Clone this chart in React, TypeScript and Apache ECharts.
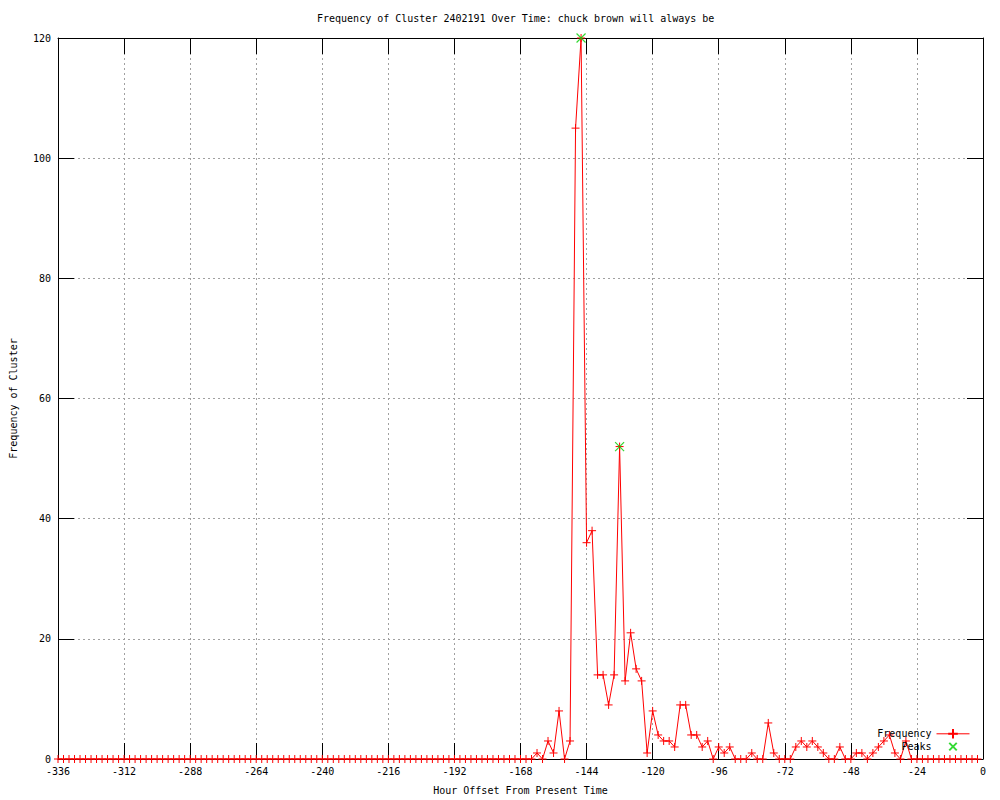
import React, { useEffect, useRef } from "react";
import * as echarts from "echarts";

const TITLE = "Frequency of Cluster 2402191 Over Time: chuck brown will always be";
const X_NAME = "Hour Offset From Present Time";
const Y_NAME = "Frequency of Cluster";

// hour offsets, every 2 hours from -336 to -2
const hours: number[] = Array.from({ length: 168 }, (_, i) => -336 + 2 * i);

// frequency values (one per hour offset above)
const frequency: number[] = [
  // -336 .. -172
  0, 0, 0, 0, 0, 0, 0, 0, 0, 0,
  0, 0, 0, 0, 0, 0, 0, 0, 0, 0,
  0, 0, 0, 0, 0, 0, 0, 0, 0, 0,
  0, 0, 0, 0, 0, 0, 0, 0, 0, 0,
  0, 0, 0, 0, 0, 0, 0, 0, 0, 0,
  0, 0, 0, 0, 0, 0, 0, 0, 0, 0,
  0, 0, 0, 0, 0, 0, 0, 0, 0, 0,
  0, 0, 0, 0, 0, 0, 0, 0, 0, 0,
  0, 0, 0,
  // -170 .. -152
  0, 0, 0, 0, 1, 0, 3, 1, 8, 0,
  // -150 .. -132
  3, 105, 120, 36, 38, 14, 14, 9, 14, 52,
  // -130 .. -112
  13, 21, 15, 13, 1, 8, 4, 3, 3, 2,
  // -110 .. -92
  9, 9, 4, 4, 2, 3, 0, 2, 1, 2,
  // -90 .. -72
  0, 0, 0, 1, 0, 0, 6, 1, 0, 0,
  // -70 .. -52
  0, 2, 3, 2, 3, 2, 1, 0, 0, 2,
  // -50 .. -32
  0, 0, 1, 1, 0, 1, 2, 3, 4, 1,
  // -30 .. -12
  0, 3, 0, 0, 0, 0, 0, 0, 0, 0,
  // -10 .. -2
  0, 0, 0, 0, 0,
];

const peakHours: number[] = [-146, -132];
const peakValues: number[] = [120, 52];

const X_MIN = -336;
const X_MAX = 0;
const X_STEP = 24;
const Y_MIN = 0;
const Y_MAX = 120;
const Y_STEP = 20;

const FONT = "'DejaVu Sans Mono', 'Liberation Mono', monospace";
const PLUS = "path://M5,0L5,10M0,5L10,5";
const CROSS = "path://M0,0L10,10M10,0L0,10";
const CROSS_PADDED = "path://M-3,-3M13,13M0,0L10,10M10,0L0,10";

export default function App() {
  const ref = useRef<HTMLDivElement>(null);

  useEffect(() => {
    if (!ref.current) return;
    const chart = echarts.init(ref.current, undefined, { renderer: "svg" });

    const lineData = hours.map((h, i) => [h, frequency[i]]);
    const peakData = peakHours.map((h, i) => [h, peakValues[i]]);

    const tickLen = 16;
    const axisCommon = {
      axisLine: { show: true, onZero: false, lineStyle: { color: "#000", width: 1 } },
      axisTick: { show: true, inside: true, length: tickLen, lineStyle: { color: "#000", width: 1 } },
    };

    chart.setOption({
      animation: false,
      backgroundColor: "#fff",
      textStyle: { fontFamily: FONT, color: "#000" },
      title: {
        text: TITLE,
        left: 312,
        top: 8,
        textStyle: { fontFamily: FONT, fontSize: 10, fontWeight: "normal", color: "#000" },
      },
      grid: { left: 55, right: 17, top: 38, bottom: 40, containLabel: false },
      legend: {
        orient: "vertical",
        right: 25,
        top: 723,
        align: "right",
        itemWidth: 33,
        itemHeight: 12,
        itemGap: 0,
        textStyle: { fontFamily: FONT, fontSize: 10, color: "#000" },
        lineStyle: { width: 1 },
        data: [
          { name: "Frequency" },
          { name: "Peaks", icon: CROSS_PADDED },
        ],
      },
      xAxis: [
        {
          type: "value",
          min: X_MIN,
          max: X_MAX,
          interval: X_STEP,
          position: "bottom",
          name: X_NAME,
          nameLocation: "middle",
          nameGap: 26,
          nameTextStyle: { fontFamily: FONT, fontSize: 10, color: "#000" },
          ...axisCommon,
          axisLabel: { show: true, margin: 7, fontFamily: FONT, fontSize: 10, color: "#000" },
          splitLine: { show: true, lineStyle: { color: "#a0a0a0", type: [2, 3], width: 1 } },
        },
        {
          type: "value",
          min: X_MIN,
          max: X_MAX,
          interval: X_STEP,
          position: "top",
          ...axisCommon,
          axisLabel: { show: false },
          splitLine: { show: false },
        },
      ],
      yAxis: [
        {
          type: "value",
          min: Y_MIN,
          max: Y_MAX,
          interval: Y_STEP,
          position: "left",
          name: Y_NAME,
          nameLocation: "middle",
          nameGap: 40,
          nameRotate: 90,
          nameTextStyle: { fontFamily: FONT, fontSize: 10, color: "#000" },
          ...axisCommon,
          axisLabel: { show: true, margin: 7, fontFamily: FONT, fontSize: 10, color: "#000" },
          splitLine: { show: true, lineStyle: { color: "#a0a0a0", type: [2, 3], width: 1 } },
        },
        {
          type: "value",
          min: Y_MIN,
          max: Y_MAX,
          interval: Y_STEP,
          position: "right",
          ...axisCommon,
          axisLabel: { show: false },
          splitLine: { show: false },
        },
      ],
      series: [
        {
          name: "Frequency",
          type: "line",
          data: lineData,
          xAxisIndex: 0,
          yAxisIndex: 0,
          symbol: PLUS,
          symbolSize: 8,
          showAllSymbol: true,
          lineStyle: { color: "#ff0000", width: 1 },
          itemStyle: { color: "#ff0000", borderColor: "#ff0000", borderWidth: 1 },
          emphasis: { disabled: true },
          z: 2,
        },
        {
          name: "Peaks",
          type: "scatter",
          data: peakData,
          xAxisIndex: 0,
          yAxisIndex: 0,
          symbol: CROSS,
          symbolSize: 9,
          itemStyle: { color: "#00d000", borderColor: "#00d000", borderWidth: 1.2 },
          emphasis: { disabled: true },
          z: 6,
        },
      ],
    });

    return () => chart.dispose();
  }, []);

  return (
    <div
      ref={ref}
      style={{ position: "absolute", left: 0, top: 0, width: 1000, height: 800 }}
    />
  );
}
